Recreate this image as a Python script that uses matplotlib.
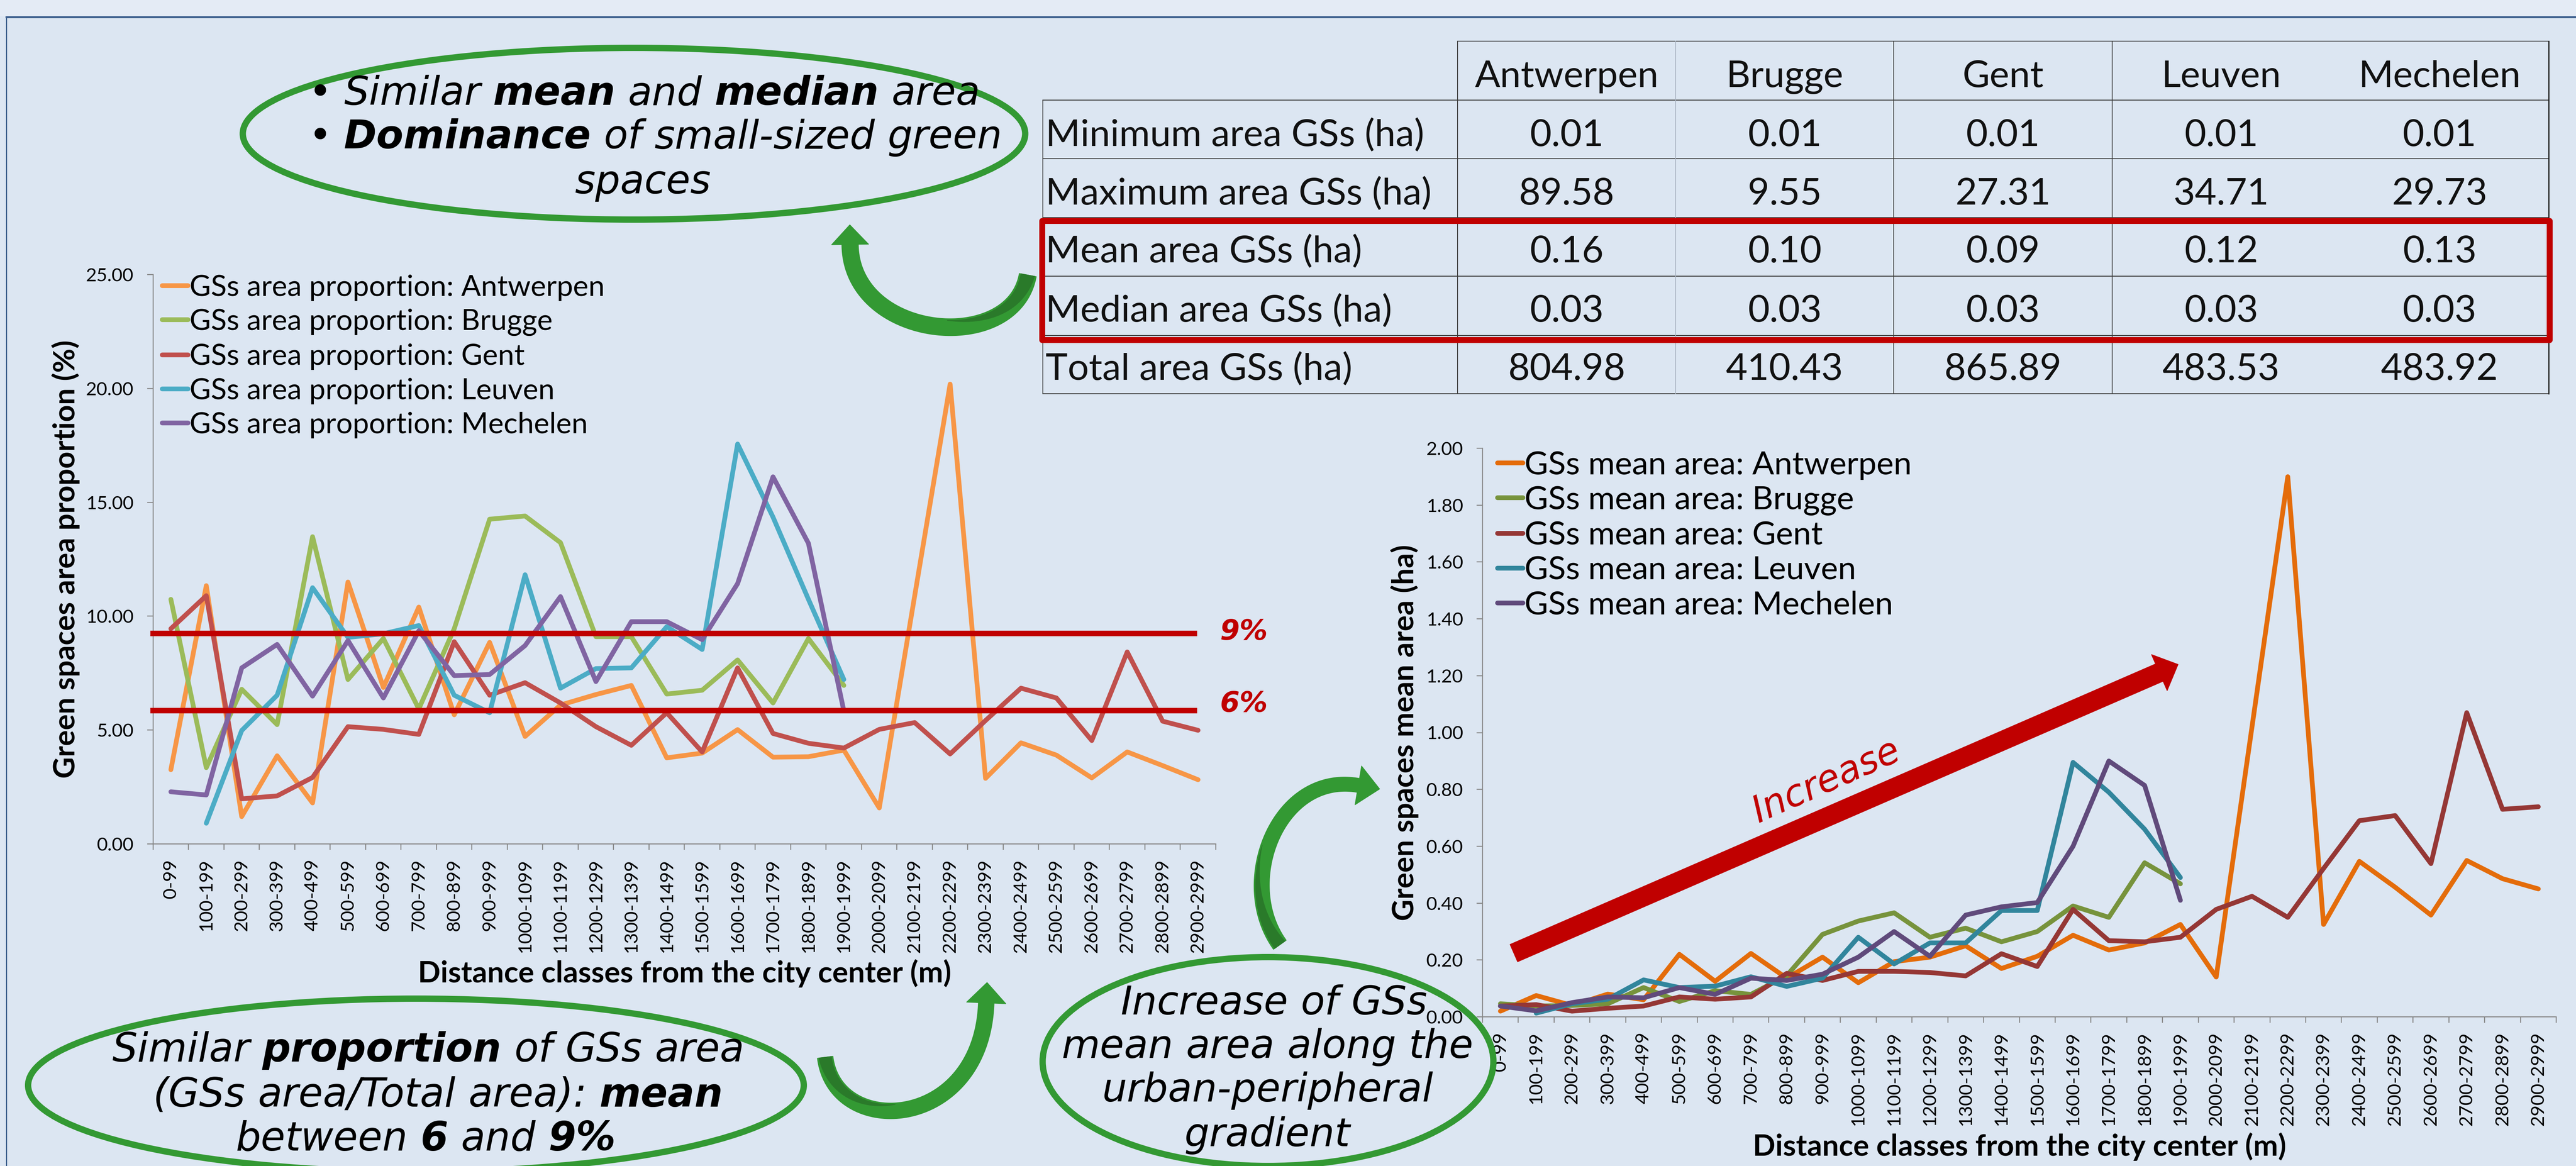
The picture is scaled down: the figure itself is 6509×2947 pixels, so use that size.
import numpy as np
import matplotlib
matplotlib.use("Agg")
import matplotlib.pyplot as plt
from matplotlib.patches import Ellipse, Polygon, Rectangle
from matplotlib.lines import Line2D
from matplotlib.transforms import IdentityTransform

# ---------------- data ----------------
classes = ["0-99", "100-199", "200-299", "300-399", "400-499", "500-599", "600-699",
           "700-799", "800-899", "900-999", "1000-1099", "1100-1199", "1200-1299",
           "1300-1399", "1400-1499", "1500-1599", "1600-1699", "1700-1799", "1800-1899",
           "1900-1999", "2000-2099", "2100-2199", "2200-2299", "2300-2399", "2400-2499",
           "2500-2599", "2600-2699", "2700-2799", "2800-2899", "2900-2999"]
cities = ["Antwerpen", "Brugge", "Gent", "Leuven", "Mechelen"]
nan = np.nan

# green-space area proportion (%)
prop_antwerpen = [3.26, 11.34, 1.2, 3.87, 1.8, 11.5, 6.87, 10.4, 5.67, 8.85, 4.72, 6.1, 6.56, 6.96,
                  3.78, 3.99, 5.02, 3.81, 3.83, 4.12, 1.58, 10.9, 20.19, 2.88, 4.44, 3.9, 2.9,
                  4.04, 3.44, 2.82]
prop_brugge = [10.74, 3.35, 6.79, 5.24, 13.49, 7.22, 9.02, 5.93, 9.45, 14.26, 14.4, 13.23, 9.1,
               9.1, 6.58, 6.75, 8.08, 6.19, 9.02, 6.96]
prop_gent = [9.45, 10.9, 1.98, 2.11, 2.92, 5.15, 5.03, 4.81, 8.88, 6.53, 7.08, 6.19, 5.15, 4.33,
             5.76, 4.04, 7.73, 4.85, 4.42, 4.21, 5.03, 5.33, 3.95, 5.42, 6.84, 6.41, 4.54, 8.43,
             5.39, 4.99]
prop_leuven = [nan, 0.91, 4.98, 6.53, 11.25, 9.07, 9.23, 9.59, 6.53, 5.76, 11.82, 6.84, 7.7, 7.73,
               9.54, 8.54, 17.56, 14.35, 10.74, 7.22]
prop_mechelen = [2.29, 2.15, 7.73, 8.76, 6.49, 8.93, 6.41, 9.36, 7.39, 7.44, 8.71, 10.86, 7.13,
                 9.76, 9.76, 8.97, 11.43, 16.12, 13.2, 5.84]

# green-space mean area (ha)
mean_antwerpen = [0.02, 0.075, 0.04, 0.08, 0.06, 0.22, 0.125, 0.223, 0.136, 0.21, 0.12, 0.194,
                  0.21, 0.25, 0.17, 0.213, 0.287, 0.235, 0.26, 0.325, 0.14, 1.02, 1.9, 0.325,
                  0.547, 0.456, 0.358, 0.55, 0.486, 0.45]
mean_brugge = [0.046, 0.038, 0.04, 0.046, 0.103, 0.054, 0.092, 0.079, 0.145, 0.29, 0.337, 0.366,
               0.28, 0.312, 0.264, 0.3, 0.39, 0.35, 0.542, 0.468]
mean_gent = [0.038, 0.043, 0.02, 0.03, 0.038, 0.07, 0.062, 0.07, 0.153, 0.128, 0.16, 0.16, 0.156,
             0.144, 0.222, 0.177, 0.378, 0.268, 0.264, 0.28, 0.378, 0.424, 0.35, 0.522, 0.69,
             0.708, 0.539, 1.07, 0.73, 0.739]
mean_leuven = [nan, 0.013, 0.046, 0.062, 0.13, 0.103, 0.108, 0.141, 0.107, 0.136, 0.28, 0.186,
               0.26, 0.26, 0.374, 0.374, 0.895, 0.79, 0.66, 0.49]
mean_mechelen = [0.038, 0.021, 0.05, 0.07, 0.067, 0.103, 0.079, 0.136, 0.128, 0.15, 0.21, 0.3,
                 0.213, 0.358, 0.387, 0.402, 0.6, 0.9, 0.814, 0.41]

prop_ticks = [0, 5, 10, 15, 20, 25]
mean_ticks = [0.0, 0.2, 0.4, 0.6, 0.8, 1.0, 1.2, 1.4, 1.6, 1.8, 2.0]
guide_lines = [9.25, 5.85]          # the "9%" and "6%" guide lines
guide_labels = ["9%", "6%"]

table_header = ["Antwerpen", "Brugge", "Gent", "Leuven", "Mechelen"]
table_rows = ["Minimum area GSs (ha)", "Maximum area GSs (ha)", "Mean area GSs (ha)",
              "Median area GSs (ha)", "Total area GSs (ha)"]
table_min = ["0.01", "0.01", "0.01", "0.01", "0.01"]
table_max = ["89.58", "9.55", "27.31", "34.71", "29.73"]
table_mean = ["0.16", "0.10", "0.09", "0.12", "0.13"]
table_median = ["0.03", "0.03", "0.03", "0.03", "0.03"]
table_total = ["804.98", "410.43", "865.89", "483.53", "483.92"]

# ---------------- figure ----------------
W, H = 6510, 2947
DPI = 100
PT = 72.0 / DPI
plt.rcParams['font.family'] = ['Lato', 'DejaVu Sans']
HAND = ['DejaVu Sans']
GREEN = '#339933'
DKGREEN = '#2A7A2A'
RED = '#C00000'
AXC = '#868686'

fig = plt.figure(figsize=(W / DPI, H / DPI), dpi=DPI)
fig.patch.set_facecolor('#DCE6F2')
ID = IdentityTransform()


def fr(x0, y0, x1, y1):
    return [x0 / W, 1 - y1 / H, (x1 - x0) / W, (y1 - y0) / H]


def fxy(p):
    p = np.asarray(p, float)
    return np.column_stack([p[:, 0] / W, 1 - p[:, 1] / H])


def fline(xs, ys, **kw):
    fig.add_artist(Line2D(np.array(xs) / W, 1 - np.array(ys) / H, transform=fig.transFigure, **kw))


# frame
fig.add_artist(Rectangle((0, 1 - 41 / H), 1, 41 / H, transform=fig.transFigure,
                         facecolor='#E4EBF5', edgecolor='none', zorder=0))
fline([16, W], [43, 43], color='#3B5E8C', lw=5 * PT, zorder=1)
fline([16, 16], [43, H], color='#3B5E8C', lw=3 * PT, zorder=1)

# ---------------- charts ----------------
ax1 = fig.add_axes(fr(387, 694, 3072, 2133))
ax2 = fig.add_axes(fr(3746, 1133, 6459, 2570))
x = np.arange(len(classes))


def pad(v):
    return np.array(list(v) + [nan] * (len(classes) - len(v)), float)


cols1 = ['#F79646', '#9BBB59', '#C0504D', '#4BACC6', '#8064A2']
cols2 = ['#E46C0A', '#77933C', '#953735', '#31859C', '#604A7B']
prop_series = [prop_antwerpen, prop_brugge, prop_gent, prop_leuven, prop_mechelen]
mean_series = [mean_antwerpen, mean_brugge, mean_gent, mean_leuven, mean_mechelen]

for name, vals, c in zip(cities, prop_series, cols1):
    ax1.plot(x, pad(vals), color=c, lw=12 * PT, solid_capstyle='round', solid_joinstyle='round',
             label=f"GSs area proportion: {name}")
for name, vals, c in zip(cities, mean_series, cols2):
    ax2.plot(x, pad(vals), color=c, lw=12 * PT, solid_capstyle='round', solid_joinstyle='round',
             label=f"GSs mean area: {name}")

TICKFS = 34
for ax, ticks, fmt in [(ax1, prop_ticks, "%.2f"), (ax2, mean_ticks, "%.2f")]:
    ax.set_facecolor('none')
    ax.set_xlim(-0.5, len(classes) - 0.5)
    ax.set_ylim(ticks[0], ticks[-1])
    for s in ['top', 'right']:
        ax.spines[s].set_visible(False)
    for s in ['left', 'bottom']:
        ax.spines[s].set_color(AXC)
        ax.spines[s].set_linewidth(2.5 * PT)
    ax.set_yticks(ticks)
    ax.set_yticklabels([fmt % v for v in ticks], fontsize=TICKFS)
    ax.set_xticks(np.arange(-0.5, len(classes), 1.0))
    ax.set_xticklabels([])
    ax.set_xticks(x, minor=True)
    ax.set_xticklabels(classes, minor=True, rotation=90, fontsize=TICKFS)
    ax.tick_params(axis='x', which='major', length=15 * PT, width=2.5 * PT, color=AXC, direction='out')
    ax.tick_params(axis='x', which='minor', length=0, pad=38 * PT)
    ax.tick_params(axis='y', length=15 * PT, width=2.5 * PT, color=AXC, direction='out', pad=34 * PT)

ax1.hlines(guide_lines, -0.58, 28.98, colors=RED, lw=14 * PT, zorder=5, clip_on=False)

ax1.legend(loc='upper left', bbox_to_anchor=(0.0086, 1.0), frameon=False, fontsize=53,
           handlelength=0.88, handletextpad=0.05, labelspacing=0.26, borderpad=0, borderaxespad=0)
ax2.legend(loc='upper left', bbox_to_anchor=(0.014, 0.996), frameon=False, fontsize=59,
           handlelength=0.78, handletextpad=0.05, labelspacing=0.17, borderpad=0, borderaxespad=0)

LABFS = 54
ax1.set_ylabel("Green spaces area proportion (%)", fontsize=LABFS, fontweight='bold')
ax1.yaxis.set_label_coords((166 - 387) / (3072 - 387), 0.5)
ax1.yaxis.label.set_va('center')
ax2.set_ylabel("Green spaces mean area (ha)", fontsize=LABFS, fontweight='bold')
ax2.yaxis.set_label_coords((3549 - 3746) / (6459 - 3746), 0.5)
ax2.yaxis.label.set_va('center')
ax1.set_xlabel("Distance classes from the city center (m)", fontsize=LABFS, fontweight='bold')
ax1.xaxis.set_label_coords(0.5, (2133 - 2483) / (2133 - 694))
ax1.xaxis.label.set_va('baseline')
ax2.set_xlabel("Distance classes from the city center (m)", fontsize=LABFS, fontweight='bold')
ax2.xaxis.set_label_coords(0.5, (2570 - 2921) / (2570 - 1133))
ax2.xaxis.label.set_va('baseline')

# ---------------- table ----------------
TBLFS = 68
col_edges = [3683, 4234, 4785, 5337, 5888, 6440]
row_edges = [104, 253, 401, 550, 698, 848, 995]
row_base = [220, 369, 517, 663, 813, 960]
LC = '#3A3A3A'
fline([3683, 6440], [104, 104], color=LC, lw=2 * PT, zorder=2)
for yy in row_edges[1:]:
    fline([2635, 6440], [yy, yy], color=LC, lw=2.2 * PT, zorder=2)
fline([2635, 2635], [253, 995], color=LC, lw=2 * PT, zorder=2)
for xx, c in zip([3683, 4234, 4785, 5337], [LC, '#A9B4C2', LC, LC]):
    fline([xx, xx], [104, 995], color=c, lw=2 * PT, zorder=2)
fline([6440, 6440], [104, 995], color='#222222', lw=3 * PT, zorder=2)

tbl_vals = [table_min, table_max, table_mean, table_median, table_total]
for j, h in enumerate(table_header):
    cx = (col_edges[j] + col_edges[j + 1]) / 2
    fig.text(cx, H - row_base[0], h, transform=ID, fontsize=TBLFS, color='#111111',
             ha='center', va='baseline', zorder=3)
for i, (lab, vals) in enumerate(zip(table_rows, tbl_vals)):
    yb = H - row_base[i + 1]
    fig.text(2642, yb, lab, transform=ID, fontsize=TBLFS, color='#111111',
             ha='left', va='baseline', zorder=3)
    for j, v in enumerate(vals):
        cx = (col_edges[j] + col_edges[j + 1]) / 2
        fig.text(cx, yb, v, transform=ID, fontsize=TBLFS, color='#111111',
                 ha='center', va='baseline', zorder=3)

fig.add_artist(Rectangle((2633 / W, 1 - 859 / H), (6442 - 2633) / W, (859 - 558) / H,
                         transform=fig.transFigure, fill=False, edgecolor=RED,
                         lw=15 * PT, joinstyle='round', zorder=4))

# ---------------- annotation shapes ----------------
def add_poly(p, color, z):
    fig.add_artist(Polygon(fxy(p), closed=True, transform=fig.transFigure, facecolor=color,
                           edgecolor=color, lw=1, zorder=z))


def arrow_shape(ctrl, w_tail, w_body, head_w, head_len, color, z=6, dark=None,
                dark_frac=0.5, dark_side=1):
    P = np.array(ctrl, float)
    t = np.linspace(0, 1, 300)[:, None]
    pts = ((1 - t) ** 3) * P[0] + 3 * ((1 - t) ** 2) * t * P[1] + 3 * (1 - t) * (t ** 2) * P[2] + (t ** 3) * P[3]
    d = np.gradient(pts, axis=0)
    d /= np.linalg.norm(d, axis=1)[:, None]
    n = np.column_stack([-d[:, 1], d[:, 0]])
    hw = (w_tail + (w_body - w_tail) * t) / 2
    L = pts + n * hw
    R = pts - n * hw
    tip = pts[-1] + d[-1] * head_len
    head = np.array([pts[-1] + n[-1] * head_w / 2, tip, pts[-1] - n[-1] * head_w / 2])
    add_poly(np.vstack([L, head, R[::-1]]), color, z)
    if dark:
        m = int(len(pts) * dark_frac)
        s = np.linspace(1, 0, m)[:, None]
        edge = pts[:m] + dark_side * n[:m] * hw[:m] * 0.8
        inner = pts[:m] + dark_side * n[:m] * hw[:m] * (0.8 - 1.6 * s)
        add_poly(np.vstack([edge, inner[::-1]]), dark, z + 0.1)


def straight(p0, p1):
    p0 = np.array(p0, float)
    p1 = np.array(p1, float)
    return [p0, p0 + (p1 - p0) / 3, p0 + 2 * (p1 - p0) / 3, p1]


# curved arrow from table to top bubble
arrow_shape([(2597, 695), (2560, 900), (2150, 860), (2148, 618)], 44, 42, 94, 50, GREEN,
            dark=DKGREEN, dark_frac=0.45, dark_side=1)
# J arrow bottom-left bubble -> left chart
arrow_shape([(2085, 2672), (2110, 2880), (2480, 2860), (2492, 2535)], 40, 40, 100, 52, GREEN,
            dark=DKGREEN, dark_frac=0.45, dark_side=-1)
# curved arrow increase bubble -> right chart
arrow_shape([(3234, 2388), (3120, 2230), (3230, 1950), (3432, 1985)], 40, 36, 100, 55, GREEN,
            dark=DKGREEN, dark_frac=0.45, dark_side=-1)
# big red "Increase" arrow
arrow_shape(straight((3825, 2409), (5456, 1700)), 48, 48, 100, 52, RED, z=6)

# bubbles
for cx, cy, w, h in [(1602, 338, 1977, 434), (1051, 2743, 1960, 438), (3204, 2683, 1139, 528)]:
    fig.add_artist(Ellipse((cx / W, 1 - cy / H), w / W, h / H, transform=fig.transFigure,
                           fill=False, edgecolor=GREEN, lw=16 * PT, zorder=4))

# ---------------- handwritten-style texts ----------------
renderer = fig.canvas.get_renderer()


def twidth(s, size, bold=False, family=HAND, style='italic'):
    t = fig.text(0, 0, s, transform=ID, fontsize=size, family=family, style=style,
                 fontweight='bold' if bold else 'normal')
    w = t.get_window_extent(renderer).width
    t.remove()
    return w


def line_width(tokens, size):
    ws = [twidth(w, size, b) for w, b in tokens]
    sp = twidth('a a', size) - twidth('aa', size)
    return sum(ws) + sp * (len(ws) - 1), ws, sp


def rich_line(tokens, x, yb, size, align='center', color='black', z=8):
    total, ws, sp = line_width(tokens, size)
    x0 = x - total / 2 if align == 'center' else x
    for (w, b), wd in zip(tokens, ws):
        fig.text(x0, H - yb, w, transform=ID, fontsize=size, family=HAND, style='italic',
                 fontweight='bold' if b else 'normal', color=color, ha='left', va='baseline',
                 zorder=z)
        x0 += wd + sp


def fit(tokens, target):
    w0, _, _ = line_width(tokens, 50)
    return 50 * target / w0


top1 = [("•", 0), ("Similar", 0), ("mean", 1), ("and", 0), ("median", 1), ("area", 0)]
top2 = [("•", 0), ("Dominance", 1), ("of", 0), ("small-sized", 0), ("green", 0)]
top3 = [("spaces", 0)]
s_top = fit(top1, 1700)
rich_line(top1, 779, 265, s_top, align='left')
rich_line(top2, 779, 375, s_top, align='left')
rich_line(top3, 1625, 489, s_top)

bl1 = [("Similar", 0), ("proportion", 1), ("of", 0), ("GSs", 0), ("area", 0)]
bl2 = [("(GSs", 0), ("area/Total", 0), ("area):", 0), ("mean", 1)]
bl3 = [("between", 0), ("6", 1), ("and", 0), ("9%", 1)]
s_bl = fit(bl1, 1600)
rich_line(bl1, 1082, 2683, s_bl)
rich_line(bl2, 1107, 2797, s_bl)
rich_line(bl3, 1076, 2907, s_bl)

in1 = [("Increase", 0), ("of", 0), ("GSs", 0)]
in2 = [("mean", 0), ("area", 0), ("along", 0), ("the", 0)]
in3 = [("urban-peripheral", 0)]
in4 = [("gradient", 0)]
s_in = fit(in2, 1041)
rich_line(in1, 3219, 2564, s_in)
rich_line(in2, 3203, 2674, s_in)
rich_line(in3, 3203, 2784, s_in)
rich_line(in4, 3202, 2897, s_in)

# "Increase" on the red arrow
s_inc = 50 * 400 / twidth("Increase", 50)
fig.text(4615, H - 1975, "Increase", transform=ID, fontsize=s_inc, family=HAND, style='italic',
         color=RED, rotation=24, rotation_mode='anchor', ha='center', va='center', zorder=8)

# guide line labels
s_pc = 50 * 121 / twidth("9%", 50, bold=True)
for lab, yc in zip(guide_labels, [1597, 1779]):
    fig.text(3143, H - yc, lab, transform=ID, fontsize=s_pc, family=HAND, style='italic',
             fontweight='bold', color=RED, ha='center', va='center', zorder=8)

fig.savefig("out.png", dpi=DPI, facecolor=fig.get_facecolor())
